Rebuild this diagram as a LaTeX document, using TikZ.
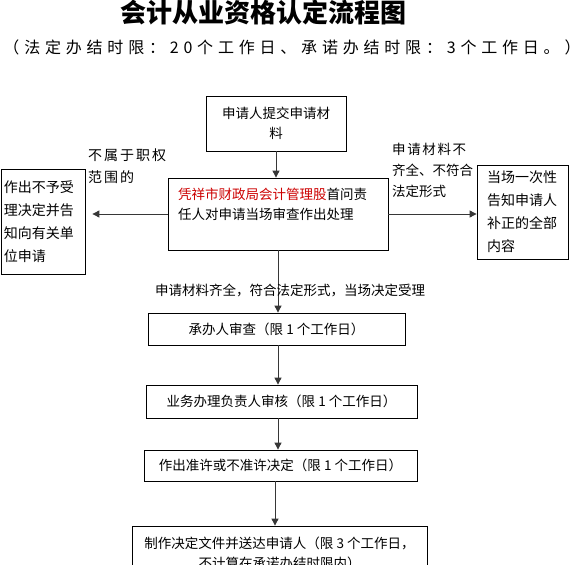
\documentclass[tikz,border=0pt]{standalone}
\usepackage{fontspec}
\usepackage{tikz}
\usepackage{xcolor}
\usetikzlibrary{arrows.meta, positioning, calc}
\newfontfamily\cjk{Noto Sans CJK SC}
\definecolor{cRed}{RGB}{204,0,0}
\definecolor{cLine}{RGB}{55,55,55}
\tikzset{
	procbox/.style={rectangle, draw=black, line width=0.8pt, text centered, align=center, inner sep=2pt, font=\cjk\fontsize{13.5}{20}\selectfont},
	sidebox/.style={rectangle, draw=black, line width=0.8pt, align=left, inner ysep=2pt, font=\cjk\fontsize{14}{23}\selectfont},
	flowarrow/.style={-{Triangle[length=7pt,width=7pt]}, draw=cLine, line width=0.9pt},
	% labels beside the connectors
	note/.style={align=left, inner sep=0pt, font=\cjk\fontsize{13.5}{21}\selectfont},
}

\begin{document}
\begin{tikzpicture}[x=1pt, y=-1pt]
	\useasboundingbox (0,0) rectangle (587,565);
	\clip (0,0) rectangle (587,565);
	% heading
	\node[font=\cjk\bfseries\fontsize{26}{26}\selectfont] (title) at (263.5,13) {会计从业资格认定流程图};
	\node[font=\cjk\fontsize{16}{16}\selectfont\addfontfeature{LetterSpace=30}] (subtitle) at (292,47) {（法定办结时限：20个工作日、承诺办结时限：3个工作日。）};
	% main chain
	\node[procbox, minimum width=140pt, minimum height=55pt] (apply) at (276,123.5) {申请人提交申请材\\料};
	\node[procbox, align=left, text width=200pt, inner xsep=10pt, minimum height=72pt] (firstdesk) at (278,214)
		{\textcolor{cRed}{凭祥市财政局会计管理股}首问责\\任人对申请当场审查作出处理\\~};
	\node[procbox, minimum width=257pt, minimum height=32pt] (review) at (276.5,329) {承办人审查（限 1 个工作日）};
	\node[procbox, minimum width=271pt, minimum height=33pt] (audit) at (281.5,401.5) {业务办理负责人审核（限 1 个工作日）};
	\node[procbox, minimum width=273pt, minimum height=31pt] (decide) at (280.5,465.5) {作出准许或不准许决定（限 1 个工作日）};
	\node[procbox, minimum width=295pt, minimum height=54pt] (deliver) at (279.5,553) {制作决定文件并送达申请人（限 3 个工作日，\\不计算在承诺办结时限内）};
	% side branches
	\node[sidebox, text width=78pt, inner xsep=3pt, minimum height=105pt] (reject) at (43,221.5) {作出不予受\\理决定并告\\知向有关单\\位申请};
	\node[sidebox, text width=71pt, inner xsep=10pt, minimum height=94pt] (supplement) at (522.5,212) {当场一次性\\告知申请人\\补正的全部\\内容};
	% connectors
	\draw[flowarrow] (apply.south) -- (firstdesk.north -| apply.south);
	\draw[flowarrow] (firstdesk.west) -- (firstdesk.west -| reject.east) [shorten >=7pt];
	\draw[flowarrow] (firstdesk.east) -- (firstdesk.east -| supplement.west);
	\draw[flowarrow] (firstdesk.south) -- (review.north -| firstdesk.south);
	\draw[flowarrow] (review.south -| firstdesk.south) -- (audit.north -| firstdesk.south);
	\draw[flowarrow] (audit.south -| firstdesk.south) -- (decide.north -| firstdesk.south);
	\draw[flowarrow] (decide.south -| 275,0) -- (deliver.north -| 275,0);
	% connector labels
	\node[note, anchor=west, font=\cjk\fontsize{14}{22}\selectfont\addfontfeature{LetterSpace=14}] (outscope) at (88,166) {不属于职权\\范围的};
	\node[note, anchor=west] (incomplete) at (392,170) {{\addfontfeature{LetterSpace=12}申请材料不}\\齐全、不符合\\法定形式};
	\node[note] (accepted) at (290,290) {申请材料齐全，符合法定形式，当场决定受理};
\end{tikzpicture}
\end{document}
